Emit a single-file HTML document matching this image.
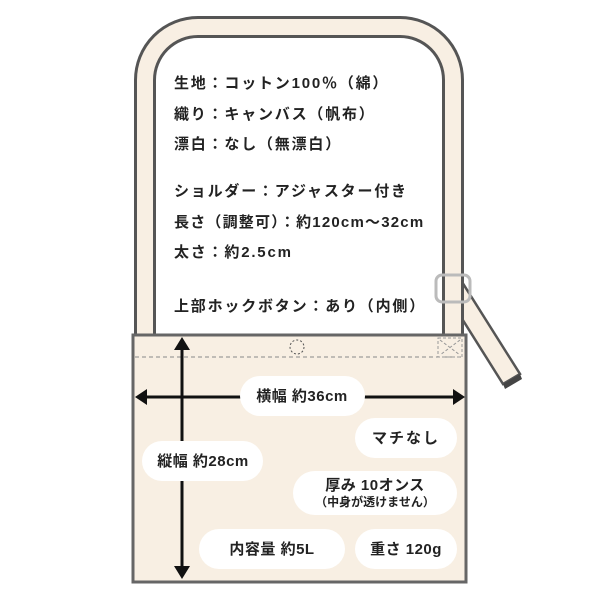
<!DOCTYPE html>
<html><head><meta charset="utf-8"><style>
body{margin:0;background:#fff;}
svg text{font-family:"Liberation Sans","Noto Sans CJK JP",sans-serif;font-weight:bold;fill:#222;}
</style></head><body>
<svg width="600" height="600" viewBox="0 0 600 600" xmlns="http://www.w3.org/2000/svg">
<!-- tail strap -->
<path d="M444 290 L462 282 L520 374 L503 384 Z" fill="#f8efe3" stroke="#555" stroke-width="2.5"/>
<path d="M503 384 L520 374 L522 379 L505 389 Z" fill="#444"/>
<!-- strap -->
<path d="M145 336 V80 A53 53 0 0 1 198 27 H400 A53 53 0 0 1 453 80 V336" fill="none" stroke="#555" stroke-width="22"/>
<path d="M145 336 V80 A53 53 0 0 1 198 27 H400 A53 53 0 0 1 453 80 V336" fill="none" stroke="#f8efe3" stroke-width="16"/>
<!-- buckle -->
<rect x="436" y="275" width="34" height="27" rx="6" fill="none" stroke="#bbb" stroke-width="3"/>
<!-- bag -->
<rect x="133" y="335" width="333" height="247" fill="#f8efe3" stroke="#666" stroke-width="3"/>
<line x1="135" y1="357" x2="464" y2="357" stroke="#888" stroke-width="1" stroke-dasharray="4,3"/>
<circle cx="297" cy="347" r="7" fill="none" stroke="#555" stroke-width="1" stroke-dasharray="2,2"/>
<rect x="438" y="338" width="24" height="19" fill="none" stroke="#999" stroke-width="1" stroke-dasharray="3,2"/>
<path d="M440 340 L460 355 M460 340 L440 355" stroke="#999" stroke-width="1" stroke-dasharray="3,2"/>
<!-- arrows -->
<line x1="145" y1="397" x2="455" y2="397" stroke="#111" stroke-width="3"/>
<path d="M135 397 L147 389 L147 405 Z M465 397 L453 389 L453 405 Z" fill="#111"/>
<line x1="182" y1="348" x2="182" y2="568" stroke="#111" stroke-width="3"/>
<path d="M182 337 L174 350 L190 350 Z M182 579 L174 566 L190 566 Z" fill="#111"/>
<!-- pills -->
<g fill="#fff">
<rect x="240" y="376" width="125" height="40" rx="20"/>
<rect x="355" y="418" width="102" height="40" rx="20"/>
<rect x="142" y="441" width="121" height="40" rx="20"/>
<rect x="293" y="471" width="164" height="44" rx="22"/>
<rect x="199" y="529" width="146" height="40" rx="20"/>
<rect x="355" y="529" width="102" height="40" rx="20"/>
</g>
<g font-size="15" text-anchor="middle">
<text x="302" y="401" letter-spacing="0.5">横幅 約36cm</text>
<text x="406" y="443" letter-spacing="2">マチなし</text>
<text x="203" y="466" letter-spacing="0.5">縦幅 約28cm</text>
<text x="375" y="490" letter-spacing="0.5">厚み 10オンス</text>
<text x="375" y="506" font-size="12">（中身が透けません）</text>
<text x="272" y="554" letter-spacing="0.5">内容量 約5L</text>
<text x="406" y="554" letter-spacing="0.5">重さ 120g</text>
</g>
<g font-size="15" letter-spacing="1.8">
<text x="174" y="88">生地：コットン100％（綿）</text>
<text x="174" y="119">織り：キャンバス（帆布）</text>
<text x="174" y="149">漂白：なし（無漂白）</text>
<text x="174" y="196">ショルダー：アジャスター付き</text>
<text x="174" y="227" letter-spacing="1.2">長さ（調整可）：約120cm～32cm</text>
<text x="174" y="257">太さ：約2.5cm</text>
<text x="174" y="311">上部ホックボタン：あり（内側）</text>
</g>
</svg>
</body></html>
